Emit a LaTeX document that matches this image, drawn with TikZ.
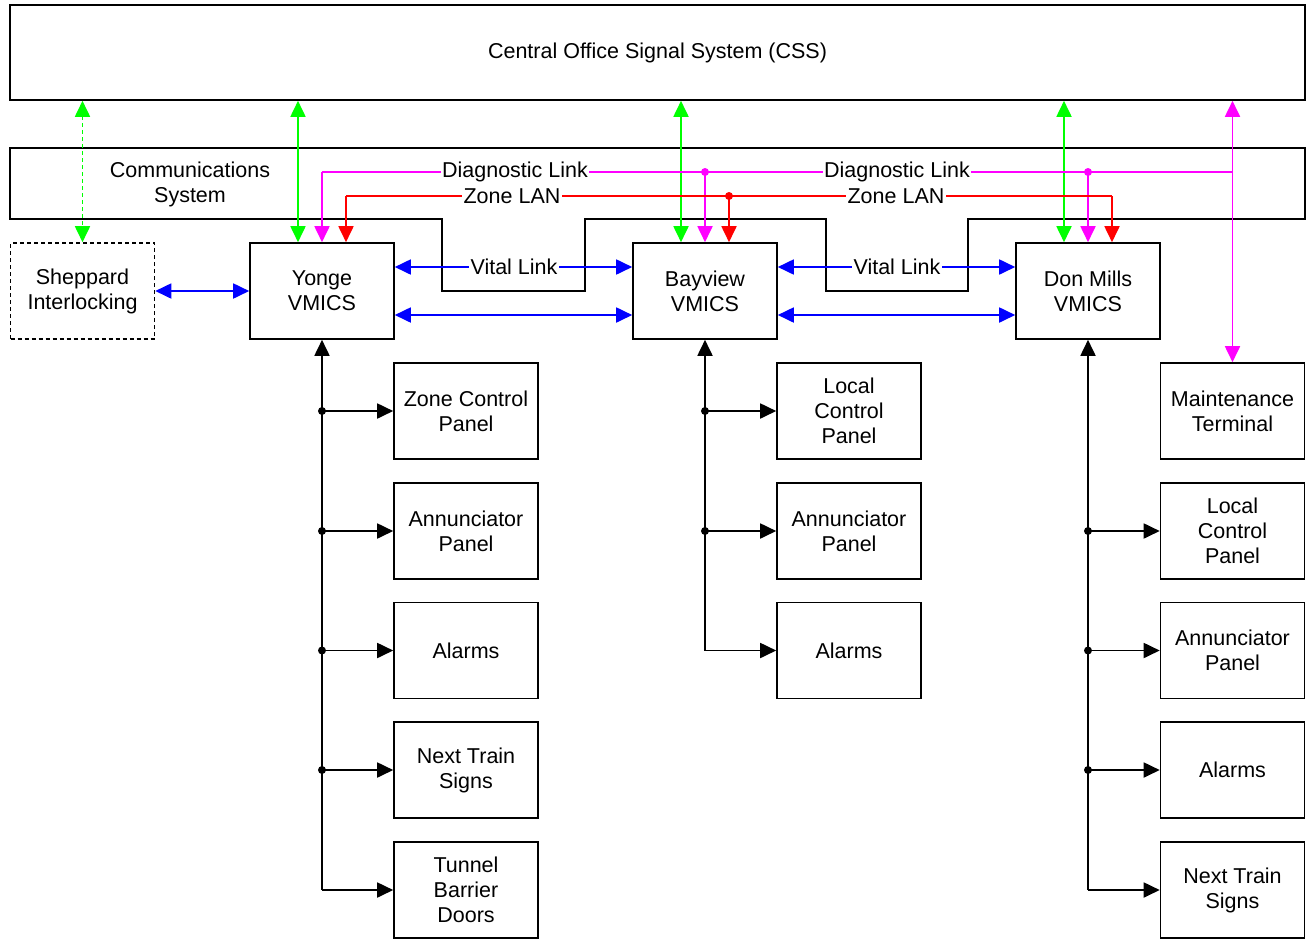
\documentclass[tikz,border=0pt]{standalone}
\usepackage{fontspec}
\setmainfont{Liberation Sans}
\usetikzlibrary{arrows.meta,calc}
\definecolor{lgreen}{RGB}{0,255,0}
\definecolor{mag}{RGB}{255,0,255}
\definecolor{rred}{RGB}{255,0,0}
\definecolor{bblue}{RGB}{0,0,255}
\begin{document}
\begin{tikzpicture}[x=1pt,y=-1pt,
  every node/.style={font=\fontsize{21.5}{25}\selectfont},
  box/.style={draw,line width=1.6pt,minimum width=144pt,minimum height=96pt,align=center,inner sep=0pt},
  tip/.style={-{Triangle[length=16pt,width=15pt]}},
  dtip/.style={{Triangle[length=16pt,width=15pt]}-{Triangle[length=16pt,width=15pt]}},
  ln/.style={line width=1.8pt},
  lbl/.style={fill=white,inner sep=1.5pt},
  dot/.style={circle,fill,inner sep=0pt,minimum size=8pt}]
\useasboundingbox (0,0) rectangle (1307,938);

% top boxes
\node[box,minimum width=1295pt,minimum height=95pt] (css) at (657.5,52.5) {Central Office Signal System (CSS)};
\draw[line width=1.6pt] (10,148) -- (1305,148) -- (1305,219) -- (968,219) -- (968,291) -- (826,291) -- (826,219) -- (585,219) -- (585,291) -- (442,291) -- (442,219) -- (10,219) -- cycle;
\node[align=center] (comm) at (190,184) {Communications\\System};

% VMICS row
\node[box,dashed,dash pattern=on 4pt off 3pt] (shep) at (82.5,291) {Sheppard\\Interlocking};
\node[box] (yonge) at (322,291) {Yonge\\VMICS};
\node[box] (bay) at (705,291) {Bayview\\VMICS};
\node[box] (dm) at (1088,291) {Don Mills\\VMICS};

% Yonge column
\node[box] (zcp) at (466,411) {Zone Control\\Panel};
\node[box] (yann) at (466,531) {Annunciator\\Panel};
\node[box] (yalm) at (466,650.5) {Alarms};
\node[box] (ynts) at (466,770) {Next Train\\Signs};
\node[box] (ytbd) at (466,890) {Tunnel\\Barrier\\Doors};

% Bayview column
\node[box] (blcp) at (849,411) {Local\\Control\\Panel};
\node[box] (bann) at (849,531) {Annunciator\\Panel};
\node[box] (balm) at (849,650.5) {Alarms};

% Don Mills column
\node[box] (mt) at (1232.5,411) {Maintenance\\Terminal};
\node[box] (dlcp) at (1232.5,531) {Local\\Control\\Panel};
\node[box] (dann) at (1232.5,650.5) {Annunciator\\Panel};
\node[box] (dalm) at (1232.5,770) {Alarms};
\node[box] (dnts) at (1232.5,890) {Next Train\\Signs};

% helper coordinates
\coordinate (dl) at (0,172);
\coordinate (zl) at (0,196);
\coordinate (vl) at (0,267);
\coordinate (vl2) at (0,315);
\coordinate (yg) at ([xshift=-24pt]yonge.north);
\coordinate (ym) at (yonge.north);
\coordinate (yr) at ([xshift=24pt]yonge.north);
\coordinate (bg) at ([xshift=-24pt]bay.north);
\coordinate (bm) at (bay.north);
\coordinate (br) at ([xshift=24pt]bay.north);
\coordinate (dg) at ([xshift=-24pt]dm.north);
\coordinate (dmm) at (dm.north);
\coordinate (dr) at ([xshift=24pt]dm.north);

% green links
\draw[ln,lgreen,dashed,dash pattern=on 4pt off 3pt,dtip] (shep.north |- css.south) -- (shep.north);
\draw[ln,lgreen,dtip] (yg |- css.south) -- (yg);
\draw[ln,lgreen,dtip] (bg |- css.south) -- (bg);
\draw[ln,lgreen,dtip] (dg |- css.south) -- (dg);

% diagnostic link
\draw[ln,mag] (ym |- dl) -- (mt.north |- dl);
\draw[ln,mag,tip] (ym |- dl) -- (ym);
\draw[ln,mag,tip] (bm |- dl) -- (bm);
\draw[ln,mag,tip] (dmm |- dl) -- (dmm);
\node[dot,mag] (d1) at (bm |- dl) {};
\node[dot,mag] (d2) at (dmm |- dl) {};
\draw[ln,mag,dtip] (mt.north |- css.south) -- (mt.north);

% zone LAN
\draw[ln,rred] (yr |- zl) -- (dr |- zl);
\draw[ln,rred,tip] (yr |- zl) -- (yr);
\draw[ln,rred,tip] (br |- zl) -- (br);
\draw[ln,rred,tip] (dr |- zl) -- (dr);
\node[dot,rred] (d3) at (br |- zl) {};

% vital links
\draw[ln,bblue,dtip] (shep.east) -- (yonge.west);
\draw[ln,bblue,dtip] (yonge.east |- vl) -- (bay.west |- vl);
\draw[ln,bblue,dtip] (yonge.east |- vl2) -- (bay.west |- vl2);
\draw[ln,bblue,dtip] (bay.east |- vl) -- (dm.west |- vl);
\draw[ln,bblue,dtip] (bay.east |- vl2) -- (dm.west |- vl2);

% labels
\node[lbl] (l1) at (515,172) {Diagnostic Link};
\node[lbl] (l2) at (897,172) {Diagnostic Link};
\node[lbl] (l3) at (512,196) {Zone LAN};
\node[lbl] (l4) at (896,196) {Zone LAN};
\node[lbl] (l5) at (514,267) {Vital Link};
\node[lbl] (l6) at (897,267) {Vital Link};

% Yonge bus
\draw[ln,tip] (yonge.south |- ytbd.west) -- (yonge.south);
\draw[ln,tip] (yonge.south |- ytbd.west) -- (ytbd.west);
\foreach \b in {zcp,yann,yalm,ynts}{
  \draw[ln,tip] (yonge.south |- \b.west) -- (\b.west);
  \node[dot] (\b d) at (yonge.south |- \b.west) {};
}
% Bayview bus
\draw[ln,tip] (bay.south |- balm.west) -- (bay.south);
\draw[ln,tip] (bay.south |- balm.west) -- (balm.west);
\foreach \b in {blcp,bann}{
  \draw[ln,tip] (bay.south |- \b.west) -- (\b.west);
  \node[dot] (\b d) at (bay.south |- \b.west) {};
}
% Don Mills bus
\draw[ln,tip] (dm.south |- dnts.west) -- (dm.south);
\draw[ln,tip] (dm.south |- dnts.west) -- (dnts.west);
\foreach \b in {dlcp,dann,dalm}{
  \draw[ln,tip] (dm.south |- \b.west) -- (\b.west);
  \node[dot] (\b d) at (dm.south |- \b.west) {};
}
\end{tikzpicture}
\end{document}
